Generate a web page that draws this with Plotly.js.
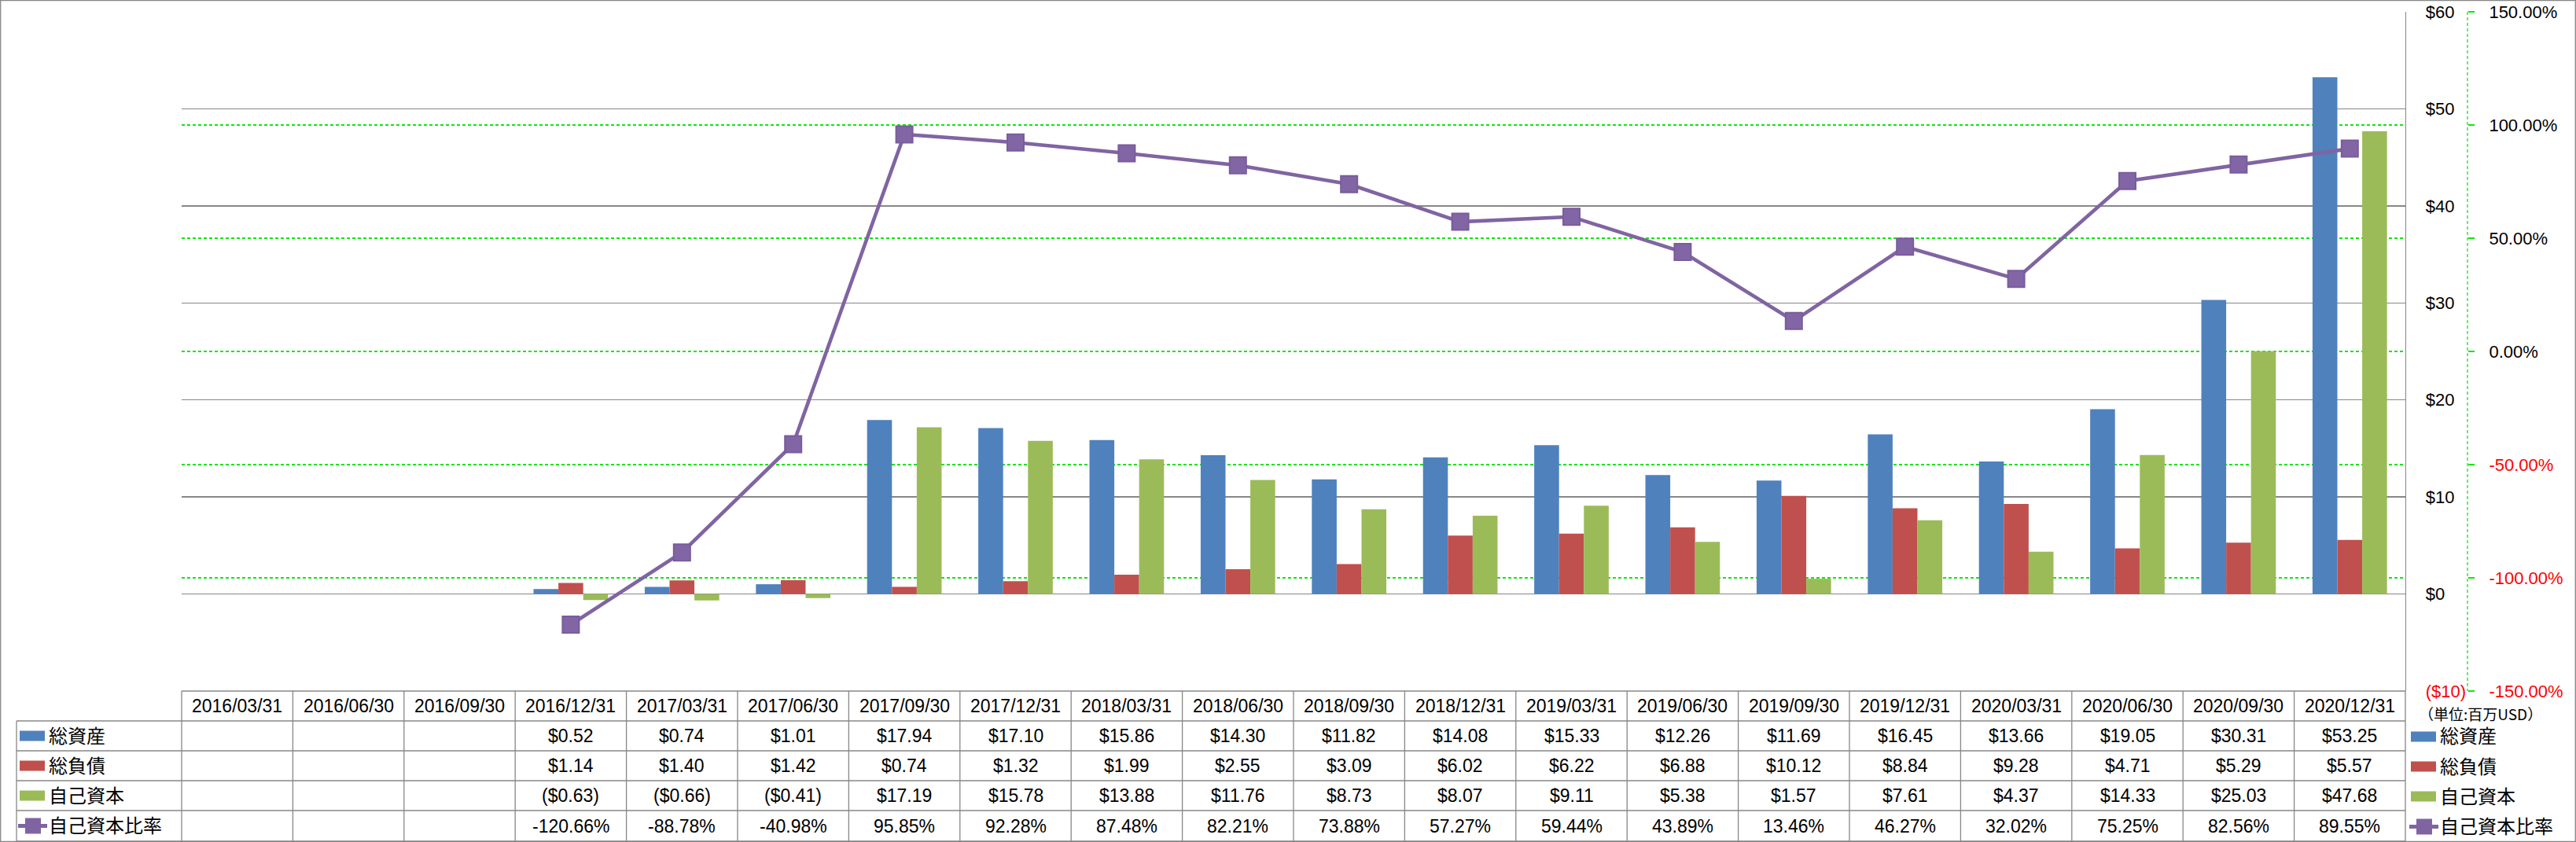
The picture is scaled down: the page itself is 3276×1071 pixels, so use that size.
<!DOCTYPE html>
<html>
<head>
<meta charset="utf-8">
<script src="https://cdn.plot.ly/plotly-3.0.1.min.js"></script>
<style>html,body{margin:0;padding:0;background:#fff;}#chart{width:3276px;height:1071px;}</style>
</head>
<body>
<div id="chart"></div>
<script>
// ---- data ----
const categories = ["2016/03/31","2016/06/30","2016/09/30","2016/12/31","2017/03/31","2017/06/30","2017/09/30","2017/12/31","2018/03/31","2018/06/30","2018/09/30","2018/12/31","2019/03/31","2019/06/30","2019/09/30","2019/12/31","2020/03/31","2020/06/30","2020/09/30","2020/12/31"];
const totalAssets = [null,null,null,0.52,0.74,1.01,17.94,17.10,15.86,14.30,11.82,14.08,15.33,12.26,11.69,16.45,13.66,19.05,30.31,53.25];
const totalLiabilities = [null,null,null,1.14,1.40,1.42,0.74,1.32,1.99,2.55,3.09,6.02,6.22,6.88,10.12,8.84,9.28,4.71,5.29,5.57];
const equity = [null,null,null,-0.63,-0.66,-0.41,17.19,15.78,13.88,11.76,8.73,8.07,9.11,5.38,1.57,7.61,4.37,14.33,25.03,47.68];
const equityRatio = [null,null,null,-120.66,-88.78,-40.98,95.85,92.28,87.48,82.21,73.88,57.27,59.44,43.89,13.46,46.27,32.02,75.25,82.56,89.55];
const seriesNames = ["総資産","総負債","自己資本","自己資本比率"];
const usdTickVals = [-10,0,10,20,30,40,50,60];
const usdTickText = ["($10)","$0","$10","$20","$30","$40","$50","$60"];
const pctTickVals = [-150,-100,-50,0,50,100,150];
const pctTickText = ["-150.00%","-100.00%","-50.00%","0.00%","50.00%","100.00%","150.00%"];
const unitLabel = "（単位:百万USD）";

// ---- styles / geometry ----
const COLORS = ["#4F81BD","#C0504D","#9BBB59","#8064A2"];
const GRID = "#878787";
const GREEN = "#11E611";
const FONT = 'Liberation Sans, "Noto Sans CJK JP", sans-serif';
const W = 3276, H = 1071;
const L = 231, R = 3059, T = 15, B = 879, AX2 = 3138;
const plotW = AX2 - L, plotH = B - T;
const px2x = p => (p - L) / plotW;
const py2y = p => (B - p) / plotH;
const rowTop = [879, 917, 955, 993, 1031, 1070];
const rowMid = i => (rowTop[i] + rowTop[i+1]) / 2;

const red = s => '<span style="color:#FF0000">' + s + '</span>';
const money = v => v == null ? "" : (v < 0 ? "($" + Math.abs(v).toFixed(2) + ")" : "$" + v.toFixed(2));
const pct = v => v == null ? "" : v.toFixed(2) + "%";

const traces = [
  {type:"bar", name:seriesNames[0], x:categories, y:totalAssets, marker:{color:COLORS[0], line:{width:0}}},
  {type:"bar", name:seriesNames[1], x:categories, y:totalLiabilities, marker:{color:COLORS[1], line:{width:0}}},
  {type:"bar", name:seriesNames[2], x:categories, y:equity, marker:{color:COLORS[2], line:{width:0}}},
  {type:"scatter", mode:"lines+markers", name:seriesNames[3], x:categories, y:equityRatio, yaxis:"y2",
   line:{color:COLORS[3], width:4.6}, marker:{symbol:"square", size:21, color:"#8265A4", line:{color:"#7A5C9C", width:2}}}
];

const shapes = [];
const annotations = [];
const ln = (x0,y0,x1,y1,color,width,dash) => shapes.push({type:"line", xref:"paper", yref:"paper",
  x0:px2x(x0), y0:py2y(y0), x1:px2x(x1), y1:py2y(y1), line:{color:color, width:width, dash:dash||"solid"}});

// outer border
shapes.push({type:"rect", xref:"paper", yref:"paper", x0:px2x(0.7), y0:py2y(0.7), x1:px2x(3275.3), y1:py2y(1070.3), line:{color:GRID, width:1.3}, fillcolor:"rgba(0,0,0,0)"});
// secondary axis dashed line
ln(AX2, T, AX2, B, GREEN, 1.3, "4px,3px");
// table horizontal lines
ln(L, rowTop[0], R, rowTop[0], GRID, 1.3);
for (let i = 1; i < rowTop.length; i++) ln(21, rowTop[i], R, rowTop[i], GRID, 1.3);
// table vertical lines
ln(21, rowTop[1], 21, rowTop[5], GRID, 1.3);
for (let k = 0; k <= categories.length; k++) {
  const px = L + k * (R - L) / categories.length;
  ln(px, rowTop[0], px, rowTop[5], GRID, 1.3);
}

// table cells
const rowsData = [totalAssets.map(money), totalLiabilities.map(money), equity.map(money), equityRatio.map(pct)];
categories.forEach((c, j) => {
  annotations.push({xref:"x", yref:"paper", x:c, y:py2y(rowMid(0)), text:c, showarrow:false, xanchor:"center", yanchor:"middle", font:{family:FONT, size:23, color:"#000"}});
  rowsData.forEach((r, i) => {
    if (r[j] !== "") annotations.push({xref:"x", yref:"paper", x:c, y:py2y(rowMid(i+1)), text:r[j], showarrow:false, xanchor:"center", yanchor:"middle", font:{family:FONT, size:23, color:"#000"}});
  });
});

// legend keys (left table column and right side)
function legendKey(i, xs, xt, yc) {
  if (i < 3) {
    shapes.push({type:"rect", xref:"paper", yref:"paper", x0:px2x(xs), x1:px2x(xs+32), y0:py2y(yc-6.5), y1:py2y(yc+6.5), line:{width:0}, fillcolor:COLORS[i]});
  } else {
    ln(xs-2, yc, xs+35, yc, COLORS[3], 5);
    shapes.push({type:"rect", xref:"paper", yref:"paper", x0:px2x(xs+7), x1:px2x(xs+27), y0:py2y(yc-10), y1:py2y(yc+10), line:{width:0}, fillcolor:COLORS[3]});
  }
  annotations.push({xref:"paper", yref:"paper", x:px2x(xt), y:py2y(yc), text:seriesNames[i], showarrow:false, xanchor:"left", yanchor:"middle", font:{family:FONT, size:24, color:"#000"}});
}
for (let i = 0; i < 4; i++) {
  legendKey(i, 25, 60, rowMid(i+1));
  legendKey(i, 3066, 3101, rowMid(i+1) + 1);
}
annotations.push({xref:"paper", yref:"paper", x:px2x(3074), y:py2y(907), text:unitLabel, showarrow:false, xanchor:"left", yanchor:"middle", font:{family:'"Noto Sans CJK JP", sans-serif', size:19, color:"#000"}});

const layout = {
  width:W, height:H,
  margin:{l:L, r:W-AX2, t:T, b:H-B, pad:0},
  paper_bgcolor:"#fff", plot_bgcolor:"rgba(0,0,0,0)",
  showlegend:false,
  barmode:"group", bargap:0.33, bargroupgap:0,
  font:{family:FONT, size:22, color:"#000"},
  xaxis:{type:"category", domain:[0,(R-L)/plotW], range:[-0.5, categories.length-0.5], showticklabels:false, showgrid:false, zeroline:false, showline:false, ticks:""},
  yaxis:{side:"right", range:[-10,60], tickvals:usdTickVals, ticktext:usdTickText.map((t,i)=>usdTickVals[i]<0?red(t):t),
         showgrid:true, gridcolor:GRID, gridwidth:1.3, zeroline:false, showline:true, linecolor:GRID, linewidth:1.3,
         ticks:"", ticklabelstandoff:20, tickfont:{family:FONT, size:22, color:"#000"}},
  yaxis2:{overlaying:"y", side:"right", anchor:"free", position:1, range:[-150,150], tickvals:pctTickVals,
          ticktext:pctTickText.map((t,i)=>pctTickVals[i]<0?red(t):t),
          showgrid:true, gridcolor:GREEN, gridwidth:1.3, griddash:"4px,3px", zeroline:false, showline:false,
          ticks:"outside", ticklen:8, tickcolor:GREEN, tickwidth:1.3, ticklabelstandoff:14, tickfont:{family:FONT, size:22, color:"#000"}},
  shapes:shapes, annotations:annotations
};

Plotly.newPlot("chart", traces, layout, {displayModeBar:false, staticPlot:true});
</script>
</body>
</html>
